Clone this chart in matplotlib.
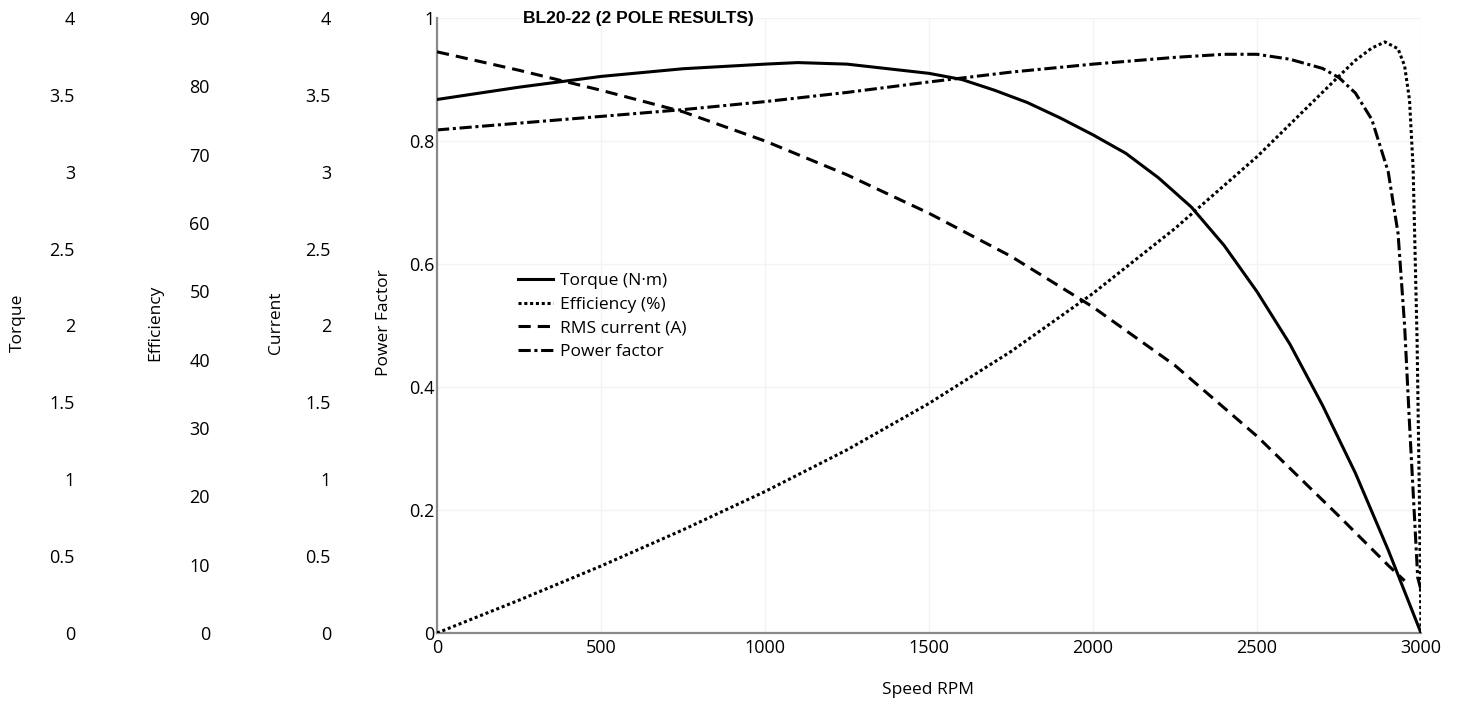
import matplotlib
matplotlib.use('Agg')
import matplotlib.pyplot as plt

plt.rcParams['font.family'] = ['Open Sans', 'DejaVu Sans']

# Torque (N·m) vs speed
torque_rpm = [0, 250, 500, 750, 1000, 1100, 1250, 1500, 1600, 1700, 1800, 1900, 2000,
              2100, 2200, 2300, 2400, 2500, 2600, 2700, 2800, 2900, 3000]
torque = [3.47, 3.55, 3.62, 3.67, 3.70, 3.71, 3.70, 3.64, 3.60, 3.53, 3.45, 3.35, 3.24,
          3.12, 2.96, 2.77, 2.52, 2.22, 1.88, 1.48, 1.04, 0.54, 0.0]

# Efficiency (%)
eff_rpm = [0, 250, 500, 750, 1000, 1250, 1500, 1750, 2000, 2250, 2500, 2750, 2800,
           2850, 2890, 2930, 2950, 2965, 2976, 2988, 2995, 3000]
efficiency = [0, 4.8, 9.8, 15.1, 20.7, 26.8, 33.6, 41.2, 49.7, 59.2, 69.7, 81.5, 83.8,
              85.6, 86.5, 85.5, 83.0, 78.0, 68.0, 43.0, 20.0, 0]

# RMS current (A)
cur_rpm = [0, 250, 500, 750, 1000, 1250, 1500, 1750, 2000, 2250, 2500, 2750, 2900, 2950]
current = [3.78, 3.66, 3.53, 3.39, 3.20, 2.98, 2.73, 2.45, 2.12, 1.74, 1.28, 0.76, 0.44, 0.34]

# Power factor
pf_rpm = [0, 250, 500, 750, 1000, 1250, 1500, 1750, 2000, 2250, 2400, 2500, 2600, 2700,
          2750, 2800, 2850, 2900, 2930, 2950, 2965, 2980, 2990, 3000]
power_factor = [0.818, 0.829, 0.840, 0.851, 0.864, 0.879, 0.896, 0.912, 0.925, 0.936, 0.941,
                0.941, 0.933, 0.918, 0.903, 0.878, 0.835, 0.75, 0.65, 0.50, 0.34, 0.19,
                0.09, 0.07]

x_ticks = [0, 500, 1000, 1500, 2000, 2500, 3000]
pf_ticks = [0, 0.2, 0.4, 0.6, 0.8, 1]
torque_ticks = [0, 0.5, 1, 1.5, 2, 2.5, 3, 3.5, 4]
eff_ticks = [0, 10, 20, 30, 40, 50, 60, 70, 80, 90]
cur_ticks = [0, 0.5, 1, 1.5, 2, 2.5, 3, 3.5, 4]

W, H = 1461, 703
fig = plt.figure(figsize=(W / 100, H / 100), dpi=100)
L, R, B, T = 437, 1421, 633, 18
ax = fig.add_axes([L / W, 1 - B / H, (R - L) / W, (B - T) / H])

ax.set_xlim(0, 3000)
ax.set_ylim(0, 1)
ax.set_xticks(x_ticks)
ax.set_xticklabels([str(v) for v in x_ticks])
ax.set_yticks(pf_ticks)
ax.set_yticklabels([f'{v:g}' for v in pf_ticks])
ax.tick_params(length=0, labelsize=13)
ax.tick_params(axis='y', pad=2)
ax.tick_params(axis='x', pad=4)
for s in ['top', 'right']:
    ax.spines[s].set_visible(False)
for s in ['left', 'bottom']:
    ax.spines[s].set_color('#8a8a8a')
    ax.spines[s].set_linewidth(1.6)
ax.grid(True, color='#f3f3f3', lw=1)
ax.set_axisbelow(True)


def side_axis(right_px, lim, ticks):
    a = ax.twinx()
    a.set_ylim(*lim)
    a.yaxis.set_ticks_position('left')
    a.spines['left'].set_position(('axes', (right_px + 4 - L) / (R - L)))
    for s in a.spines.values():
        s.set_visible(False)
    a.set_yticks(ticks)
    a.set_yticklabels([f'{v:g}' for v in ticks])
    a.tick_params(axis='y', length=0, pad=0, labelsize=13)
    return a


ax_t = side_axis(71, (0, 4), torque_ticks)
ax_e = side_axis(206, (0, 90), eff_ticks)
ax_c = side_axis(327, (0, 4), cur_ticks)

lw = 2.2
h1, = ax_t.plot(torque_rpm, torque, color='black', lw=lw, label='Torque (N·m)')
h2, = ax_e.plot(eff_rpm, efficiency, color='black', lw=lw, linestyle=(0, (1, 0.9)),
                label='Efficiency (%)')
h3, = ax_c.plot(cur_rpm, current, color='black', lw=lw, linestyle=(0, (4.0, 2.3)),
                label='RMS current (A)')
h4, = ax.plot(pf_rpm, power_factor, color='black', lw=lw,
              linestyle=(0, (4.0, 1.2, 1, 1.2)), label='Power factor')
for a in (ax_t, ax_e, ax_c):
    a.set_xlim(0, 3000)

ax_c.legend(handles=[h1, h2, h3, h4], loc='upper left',
            bbox_to_anchor=((518 - L) / (R - L), (B - 273) / (B - T)),
            frameon=False, fontsize=12.5, borderpad=0, borderaxespad=0,
            handlelength=2.0, handletextpad=0.4, labelspacing=0.43)

ax.text((523 - L) / (R - L), 1.0, 'BL20-22 (2 POLE RESULTS)', transform=ax.transAxes,
        fontsize=12.5, fontweight='bold', family='Liberation Sans', ha='left', va='center')

ylab = 1 - 323 / H
for xpx, txt in [(18, 'Torque'), (155, 'Efficiency'), (276, 'Current'), (384, 'Power Factor')]:
    fig.text(xpx / W, ylab, txt, rotation=90, ha='center', va='center', fontsize=12.5)
fig.text(928 / W, 1 - 690 / H, 'Speed RPM', ha='center', va='center', fontsize=12.5)

fig.savefig('out.png', dpi=100)
